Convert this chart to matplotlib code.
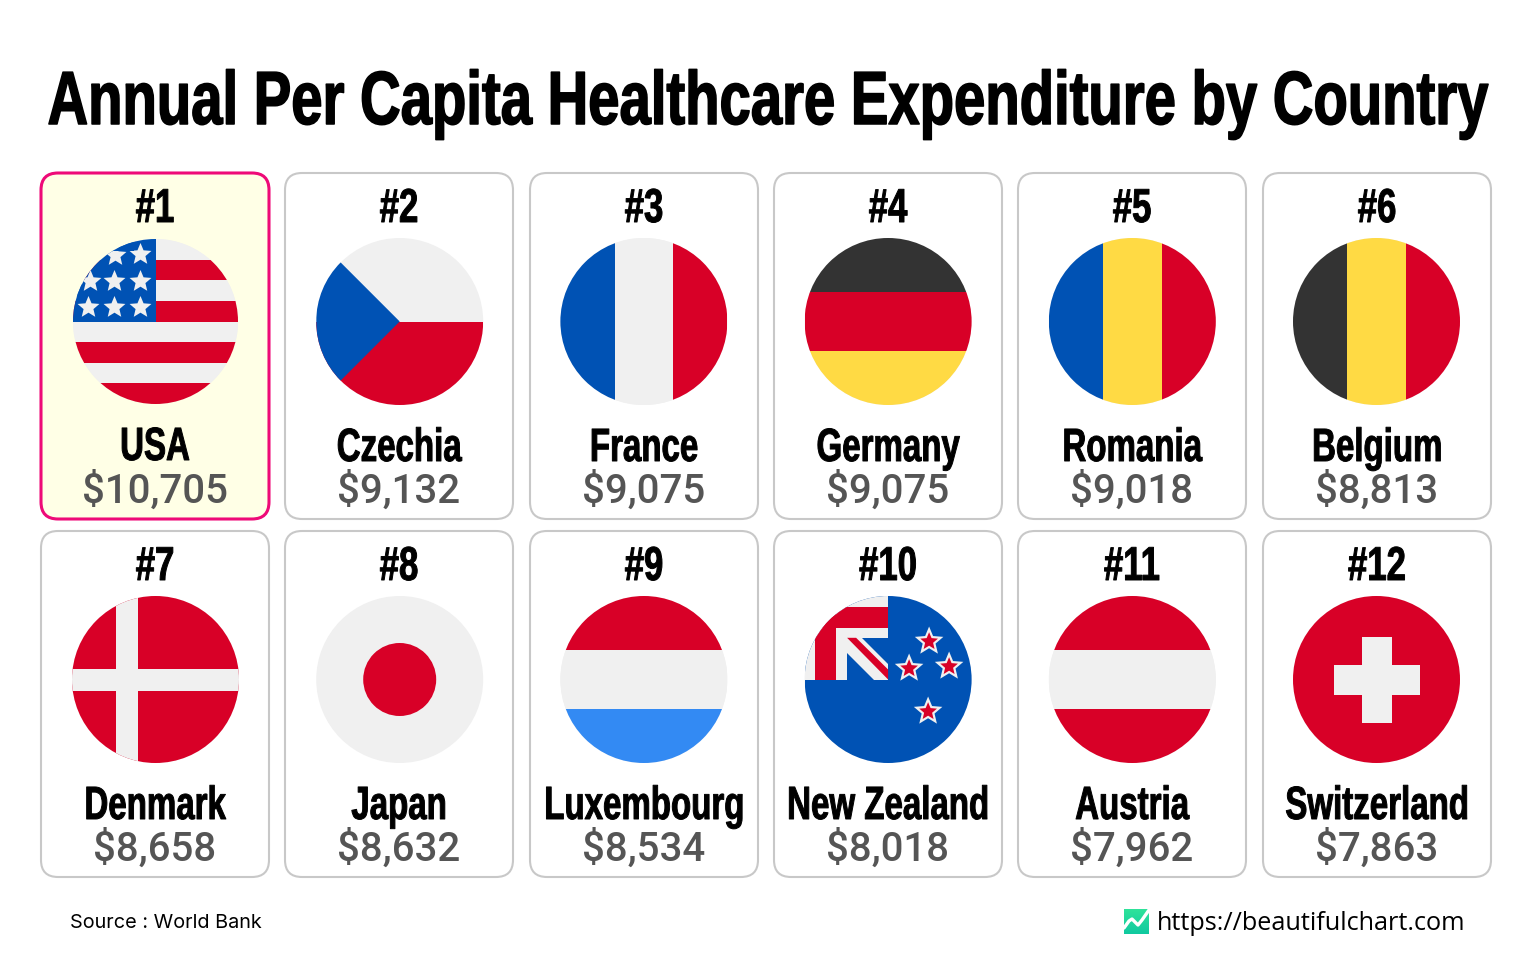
import numpy as np
import matplotlib
matplotlib.use("Agg")
import matplotlib.pyplot as plt
from matplotlib.patches import Circle, FancyBboxPatch, Polygon, Rectangle
from matplotlib.colors import LinearSegmentedColormap
from matplotlib.transforms import Affine2D
import matplotlib.patheffects as pe

# Data
ranks = ["#1", "#2", "#3", "#4", "#5", "#6", "#7", "#8", "#9", "#10", "#11", "#12"]
countries = ["USA", "Czechia", "France", "Germany", "Romania", "Belgium",
             "Denmark", "Japan", "Luxembourg", "New Zealand", "Austria", "Switzerland"]
spending = [10705, 9132, 9075, 9075, 9018, 8813, 8658, 8632, 8534, 8018, 7962, 7863]

title = "Annual Per Capita Healthcare Expenditure by Country"
source = "Source : World Bank"
site = "https://beautifulchart.com"

RED = "#D80027"
BLUE = "#0052B4"
WHITE = "#F0F0F0"
BLACK = "#333333"
YELLOW = "#FFDA44"
LIGHT_BLUE = "#338AF3"

fig = plt.figure(figsize=(15.36, 9.6), dpi=100)
ax = fig.add_axes([0, 0, 1, 1])
ax.set_xlim(0, 1536)
ax.set_ylim(960, 0)
ax.axis("off")


# no condensed font installed, so stretch the text upwards from its baseline
class Tall(pe.AbstractPathEffect):
    def __init__(self, base, sy, lw):
        super().__init__()
        self.base, self.sy, self.lw = base, sy, lw

    def draw_path(self, renderer, gc, tpath, affine, rgbFace):
        a = affine + Affine2D().translate(0, -self.base).scale(1, self.sy).translate(0, self.base)
        gc0 = renderer.new_gc()
        gc0.copy_properties(gc)
        gc0.set_foreground("black")
        gc0.set_linewidth(self.lw)
        renderer.draw_path(gc0, tpath, a, rgbFace)
        gc0.restore()


def tall_text(x, y, s, size, sy=1.41, lw=0.7):
    ax.text(x, y, s, ha="center", va="baseline", fontsize=size, color="black",
            family="Liberation Sans", fontweight="bold",
            path_effects=[Tall(960 - y, sy, lw)])


def rect(clip, x0, y0, x1, y1, color, z=3):
    r = Rectangle((x0, y0), x1 - x0, y1 - y0, fc=color, ec="none", zorder=z)
    ax.add_patch(r)
    r.set_clip_path(clip)


def poly(clip, pts, color, z=3):
    p = Polygon(pts, closed=True, fc=color, ec="none", zorder=z)
    ax.add_patch(p)
    p.set_clip_path(clip)


def star(clip, cx, cy, r, color, z=5):
    ang = np.radians(-90 + 36 * np.arange(10))
    rad = np.where(np.arange(10) % 2 == 0, r, r * 0.45)
    poly(clip, np.column_stack([cx + rad * np.cos(ang), cy + rad * np.sin(ang)]), color, z)


def draw_flag(name, cx, cy, r=83.5):
    clip = Circle((cx, cy), r, fc=WHITE, ec="none", zorder=2)
    ax.add_patch(clip)
    third = r * 0.35

    def vertical(a, b, c):
        rect(clip, cx - r, cy - r, cx - third, cy + r, a)
        rect(clip, cx - third, cy - r, cx + third, cy + r, b)
        rect(clip, cx + third, cy - r, cx + r, cy + r, c)

    def horizontal(a, b, c):
        rect(clip, cx - r, cy - r, cx + r, cy - third, a)
        rect(clip, cx - r, cy - third, cx + r, cy + third, b)
        rect(clip, cx - r, cy + third, cx + r, cy + r, c)

    if name == "USA":
        for i in range(8):
            rect(clip, cx - r, cy - r + i * r / 4, cx + r, cy - r + (i + 1) * r / 4,
                 RED if i % 2 else WHITE)
        rect(clip, cx - r, cy - r, cx, cy, BLUE, 4)
        for dx, dy in [(-15, -67), (-40, -66), (-15, -40), (-41, -40), (-65, -40),
                       (-15, -14), (-41, -14), (-67, -14)]:
            star(clip, cx + dx, cy + dy, 11.5, WHITE)
        # two of the stars are cut off in the icon
        rect(clip, cx - 60, cy - r, cx - 22, cy - 71, BLUE, 6)
        rect(clip, cx - r, cy - 55, cx - 74, cy - 25, BLUE, 6)
    elif name == "Czechia":
        rect(clip, cx - r, cy, cx + r, cy + r, RED)
        poly(clip, [(cx - r, cy - r), (cx, cy), (cx - r, cy + r)], BLUE, 4)
    elif name == "France":
        vertical(BLUE, WHITE, RED)
    elif name == "Germany":
        horizontal(BLACK, RED, YELLOW)
    elif name == "Romania":
        vertical(BLUE, YELLOW, RED)
    elif name == "Belgium":
        vertical(BLACK, YELLOW, RED)
    elif name == "Denmark":
        rect(clip, cx - r, cy - r, cx + r, cy + r, RED)
        rect(clip, cx - r, cy - 11, cx + r, cy + 11, WHITE, 4)
        rect(clip, cx - 40, cy - r, cx - 18, cy + r, WHITE, 4)
    elif name == "Japan":
        ax.add_patch(Circle((cx, cy), 36.5, fc=RED, ec="none", zorder=3))
    elif name == "Luxembourg":
        horizontal(RED, WHITE, LIGHT_BLUE)
    elif name == "New Zealand":
        rect(clip, cx - r, cy - r, cx + r, cy + r, BLUE)
        rect(clip, cx - r, cy - r, cx, cy, WHITE, 4)
        rect(clip, cx - 73, cy - 73, cx - 52, cy, RED, 5)
        rect(clip, cx - 73, cy - 73, cx, cy - 52, RED, 5)
        poly(clip, [(cx - 26, cy - 41.7), (cx, cy - 41.7), (cx, cy - 16)], BLUE, 5)
        poly(clip, [(cx - 41.5, cy - 27), (cx - 41.5, cy), (cx - 14, cy)], BLUE, 5)
        poly(clip, [(cx - 41, cy - 41.7), (cx - 32, cy - 41.7), (cx, cy - 10), (cx, cy)], RED, 5)
        for dx, dy, s in [(41, -38, 15), (61, -13, 15), (21, -11, 15), (40, 32, 15)]:
            star(clip, cx + dx, cy + dy, s, WHITE, 5)
            star(clip, cx + dx, cy + dy, s * 0.62, RED, 6)
    elif name == "Austria":
        horizontal(RED, WHITE, RED)
    elif name == "Switzerland":
        rect(clip, cx - r, cy - r, cx + r, cy + r, RED)
        rect(clip, cx - 43, cy - 15, cx + 43, cy + 15, WHITE, 4)
        rect(clip, cx - 15, cy - 43, cx + 15, cy + 43, WHITE, 4)


tall_text(768, 124, title, 40.5, sy=1.34, lw=1.1)

card_w, card_h = 228, 346
lefts = [41, 285, 530, 774, 1018, 1263]
tops = [173, 531]

for i, name in enumerate(countries):
    x = lefts[i % 6]
    y = tops[i // 6]
    cx = x + card_w / 2
    first = i == 0
    card = FancyBboxPatch((x, y), card_w, card_h, boxstyle="round,pad=0,rounding_size=17",
                          fc="#FFFFE6" if first else "white",
                          ec="#EE0A78" if first else "#C8C8C8",
                          lw=2.2 if first else 1.5, zorder=1)
    ax.add_patch(card)
    tall_text(cx, y + 49, ranks[i], 25, sy=1.37)
    draw_flag(name, 155.5 + 244.2 * (i % 6), y + 148.5, 82.5 if first else 83.5)
    tall_text(cx, y + 287 if first else y + 288, name, 23.8)
    ax.text(cx, y + 317.5, f"${spending[i]:,}", ha="center", va="center", fontsize=29,
            family="Roboto", fontweight="medium", color="#555555")

ax.text(70, 923, source, ha="left", va="center", fontsize=14.3, family="Inter", color="black")

# Logo
grad = np.linspace(0, 1, 50).reshape(-1, 1)
logo_cmap = LinearSegmentedColormap.from_list("logo", ["#2FE39A", "#10C9A0"])
ax.imshow(grad, extent=(1124, 1149, 934, 909), cmap=logo_cmap, aspect="auto", zorder=2)
ax.set_xlim(0, 1536)
ax.set_ylim(960, 0)
lx = [1124, 1129, 1132, 1135, 1138, 1142, 1149]
ly = [928, 921, 919, 922, 925, 920, 910]
ax.plot(lx, ly, color="white", lw=2.4, zorder=3, solid_capstyle="round")

ax.text(1157, 924, site, ha="left", va="center", fontsize=18.2, family="Open Sans", color="black")

fig.savefig("out.png", dpi=100, facecolor="white")
